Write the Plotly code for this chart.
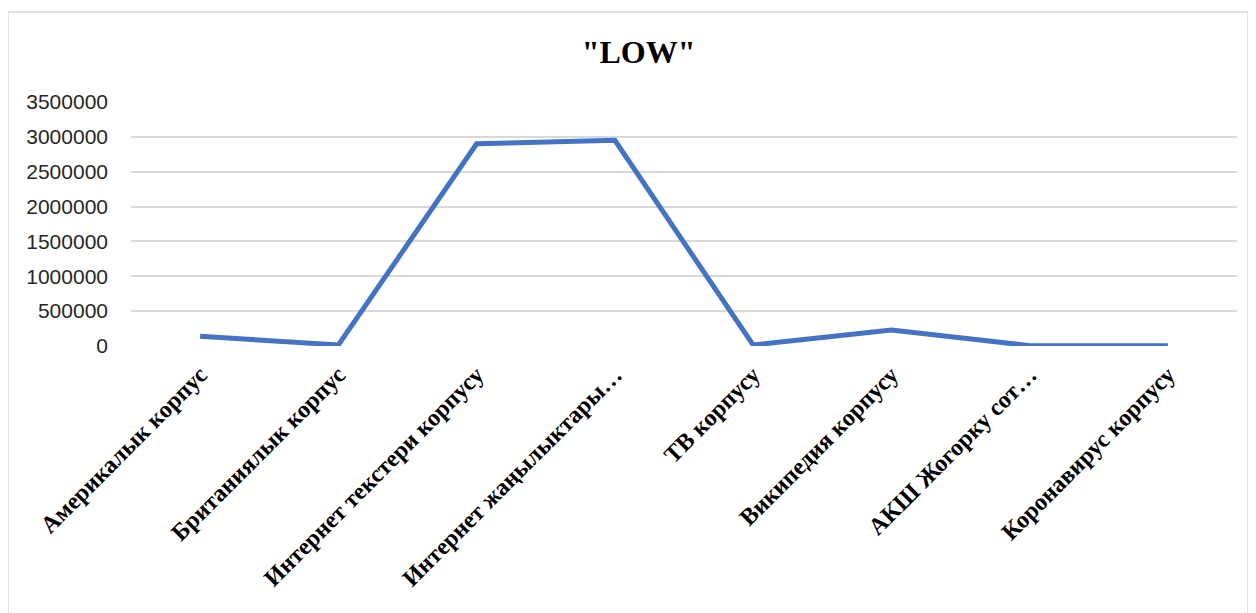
import plotly.graph_objects as go

# Data
categories = [
    "Америкалык корпус",
    "Британиялык корпус",
    "Интернет текстери корпусу",
    "Интернет жаңылыктары…",
    "ТВ корпусу",
    "Википедия корпусу",
    "АКШ Жогорку сот…",
    "Коронавирус корпусу",
]
values = [140000, 15000, 2900000, 2950000, 15000, 230000, 5000, 3000]
y_ticks = [0, 500000, 1000000, 1500000, 2000000, 2500000, 3000000, 3500000]

# page body adds ~8px offset, so margins are compensated
W, H = 1256, 613
L, R, T, B = 123, 27, 94, 275
plot_w = W - L - R
plot_h = H - T - B


def px_to_paper(x, y):
    return (x - L) / plot_w, (H - B - y) / plot_h


fig = go.Figure()
fig.add_trace(go.Scatter(
    x=categories,
    y=values,
    mode="lines",
    line=dict(color="#4472C4", width=5),
    showlegend=False,
))

# light chart-area border
x0, y0 = px_to_paper(0, 640)
x1, y1 = px_to_paper(1240, 4)
fig.add_shape(type="rect", xref="paper", yref="paper",
              x0=x0, y0=y0, x1=x1, y1=y1,
              line=dict(color="#D9D9D9", width=1.5), layer="below")

fig.update_xaxes(
    tickmode="array",
    tickvals=categories,
    ticktext=[f"<b>{c}</b>" for c in categories],
    range=[-0.5, len(categories) - 0.5],
    tickangle=-45,
    tickfont=dict(family="Liberation Serif", size=24, color="black"),
    showgrid=False,
    showline=False,
    ticks="",
    automargin=False,
    ticklabelstandoff=9,
)
fig.update_yaxes(
    range=[0, 3500000],
    tickmode="array",
    tickvals=y_ticks,
    ticktext=[str(v) for v in y_ticks],
    tickfont=dict(family="Liberation Sans", size=21, color="#262626"),
    gridcolor="#D9D9D9",
    gridwidth=1.5,
    zeroline=False,
    showline=False,
    automargin=False,
    ticklabelstandoff=22,
)

fig.update_layout(
    width=W,
    height=H,
    margin=dict(l=L, r=R, t=T, b=B),
    plot_bgcolor="white",
    paper_bgcolor="white",
    title=dict(
        text="<b>\"LOW\"</b>",
        x=0.502,
        xanchor="center",
        y=0.928,
        yanchor="middle",
        font=dict(family="Liberation Serif", size=32, color="black"),
    ),
)

fig.write_html("out.html")
